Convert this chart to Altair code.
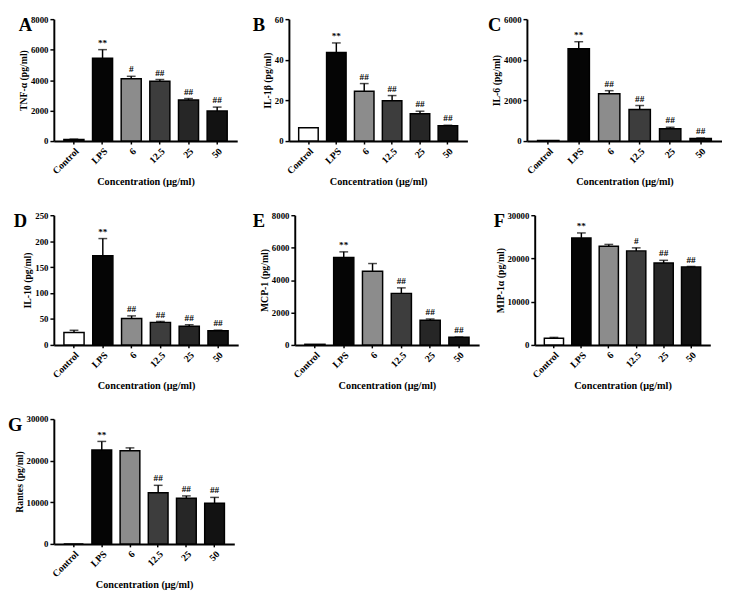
import altair as alt
import pandas as pd

FONT = "Liberation Serif"

categories = ["Control", "LPS", "6", "12.5", "25", "50"]
fills = ["#ffffff", "#050505", "#8c8c8c", "#3d3d3d", "#262626", "#121212"]

# A: TNF-alpha
tnf_mean = [100, 5440, 4090, 3930, 2700, 1970]
tnf_err = [30, 560, 160, 110, 90, 260]
tnf_ann = ["", "**", "#", "##", "##", "##"]
tnf_ticks = [0, 2000, 4000, 6000, 8000]

# B: IL-1beta
il1b_mean = [6.6, 43.6, 24.5, 19.8, 13.5, 7.6]
il1b_err = [0, 4.7, 3.8, 2.6, 1.2, 0.2]
il1b_ann = ["", "**", "##", "##", "##", "##"]
il1b_ticks = [0, 20, 40, 60]

# C: IL-6
il6_mean = [30, 4540, 2330, 1550, 610, 130]
il6_err = [0, 350, 150, 200, 70, 25]
il6_ann = ["", "**", "##", "##", "##", "##"]
il6_ticks = [0, 2000, 4000, 6000]

# D: IL-10
il10_mean = [24, 172, 51, 43.5, 36, 27.5]
il10_err = [4.3, 33, 5, 1.8, 3, 1]
il10_ann = ["", "**", "##", "##", "##", "##"]
il10_ticks = [0, 50, 100, 150, 200, 250]

# E: MCP-1
mcp_mean = [40, 5400, 4540, 3180, 1520, 470]
mcp_err = [0, 340, 480, 340, 80, 20]
mcp_ann = ["", "**", "", "##", "##", "##"]
mcp_ticks = [0, 2000, 4000, 6000, 8000]

# F: MIP-1alpha
mip_mean = [1550, 24750, 22800, 21750, 18950, 18050]
mip_err = [200, 1150, 450, 700, 620, 100]
mip_ann = ["", "**", "", "#", "##", "##"]
mip_ticks = [0, 10000, 20000, 30000]

# G: Rantes
rantes_mean = [0, 22550, 22400, 12300, 11000, 9780]
rantes_err = [0, 2080, 680, 1780, 540, 1400]
rantes_ann = ["", "**", "", "##", "##", "##"]
rantes_ticks = [0, 10000, 20000, 30000]


def panel(letter, ytitle, mean, err, ann, ticks, width, height, letter_dx):
    df = pd.DataFrame({
        "cat": categories,
        "mean": mean,
        "err": err,
        "top": [m + e for m, e in zip(mean, err)],
        "ann": ann,
    })
    x = alt.X("cat:N", sort=categories,
              scale=alt.Scale(paddingInner=0.3, paddingOuter=0.35),
              axis=alt.Axis(title="Concentration (μg/ml)", labelAngle=-45))

    def yenc(field):
        return alt.Y(f"{field}:Q",
                     scale=alt.Scale(domain=[0, ticks[-1]], nice=False, zero=True),
                     axis=alt.Axis(values=ticks, format="d", title=ytitle, minExtent=0))

    base = alt.Chart(df)
    bars = base.mark_bar(stroke="black", strokeWidth=1.5).encode(
        x=x, y=yenc("mean"),
        fill=alt.Fill("cat:N", scale=alt.Scale(domain=categories, range=fills), legend=None))
    rule = base.transform_filter("datum.err > 0").mark_rule(
        color="black", strokeWidth=1.5).encode(x=x, y=yenc("top"), y2="mean:Q")
    cap = base.transform_filter("datum.err > 0").mark_tick(
        color="black", thickness=1.5, size=9).encode(x=x, y=yenc("top"))
    txt = base.mark_text(font=FONT, fontWeight="bold", fontSize=9.5,
                         baseline="bottom", dy=-2, fill="black").encode(
        x=x, y=yenc("top"), text="ann:N")
    let = alt.Chart(pd.DataFrame({"t": [letter]})).mark_text(
        font=FONT, fontWeight="bold", fontSize=19, align="left",
        baseline="top", fill="black").encode(
        x=alt.value(letter_dx), y=alt.value(-3), text="t:N")
    return alt.layer(bars, rule, cap, txt, let).properties(width=width, height=height)


pA = panel("A", "TNF-α (pg/ml)", tnf_mean, tnf_err, tnf_ann, tnf_ticks, 188, 125, -36)
pB = panel("B", "IL-1β (pg/ml)", il1b_mean, il1b_err, il1b_ann, il1b_ticks, 183, 125, -37)
pC = panel("C", "IL-6 (pg/ml)", il6_mean, il6_err, il6_ann, il6_ticks, 200, 125, -40)
pD = panel("D", "IL-10 (pg/ml)", il10_mean, il10_err, il10_ann, il10_ticks, 189, 133, -41)
pE = panel("E", "MCP-1 (pg/ml)", mcp_mean, mcp_err, mcp_ann, mcp_ticks, 189, 133, -43)
pF = panel("F", "MIP-1α (pg/ml)", mip_mean, mip_err, mip_ann, mip_ticks, 180, 133, -42)
pG = panel("G", "Rantes (pg/ml)", rantes_mean, rantes_err, rantes_ann, rantes_ticks, 185, 128, -47)

chart = alt.concat(pA, pB, pC, pD, pE, pF, pG, columns=3, align="none",
                   spacing={"row": 24, "column": 15}).properties(
    padding={"left": 0, "top": 0, "right": 0, "bottom": 0}
).configure_view(stroke=None).configure_axis(
    domainColor="black", domainWidth=2, tickColor="black", tickWidth=1.5,
    labelFont=FONT, labelFontWeight="bold", labelColor="black",
    titleFont=FONT, titleFontWeight="bold", titleFontSize=10, titleColor="black",
    grid=False, minExtent=0
).configure_axisY(tickSize=4, labelPadding=2, titlePadding=2, labelFontSize=9,
                  minExtent=0).configure_axisX(
    tickSize=3, labelPadding=2, titlePadding=1, labelFontSize=10, titleFontSize=10.5)

chart.save("out.html", embed_options={"renderer": "svg", "actions": False})
